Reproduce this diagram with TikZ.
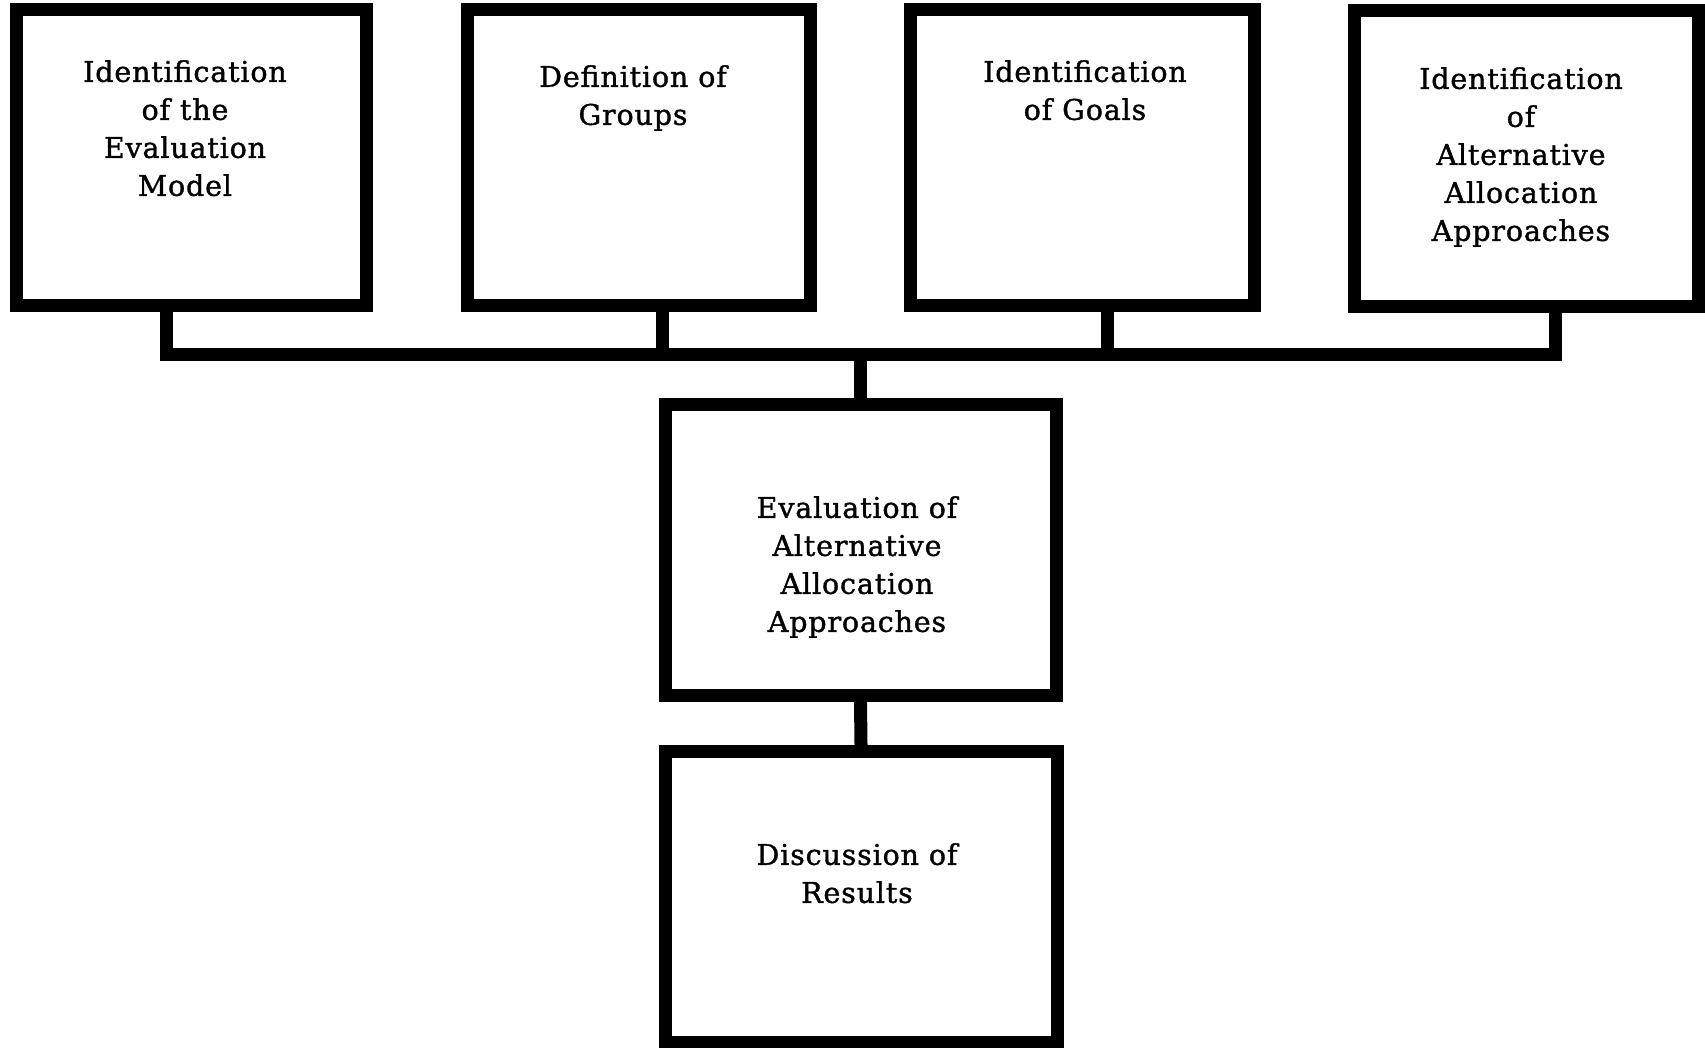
\documentclass[tikz,border=0pt]{standalone}
\usepackage{fontspec}
\setmainfont{DejaVu Serif}[LetterSpace=3, FakeBold=1.2]
\begin{document}
\begin{tikzpicture}[x=1pt,y=-1pt,
  box/.style={draw=black, line width=13pt, fill=white, rectangle, inner sep=0pt},
  lbl/.style={anchor=north, align=center, inner sep=0pt,
              font=\fontsize{28.5}{38}\selectfont},
  wire/.style={line width=13pt, line join=miter, line cap=rect}]
  % page frame
  \fill[white] (0,0) rectangle (1705,1048);
  \useasboundingbox (0,0) rectangle (1705,1048);

  % top row of boxes
  \node[box, minimum width=350pt, minimum height=296pt] (b1) at (191,158) {};
  \node[box, minimum width=343pt, minimum height=296pt] (b2) at (638.5,158) {};
  \node[box, minimum width=344pt, minimum height=296pt] (b3) at (1082,158) {};
  \node[box, minimum width=344pt, minimum height=296pt] (b4) at (1526,159) {};

  % lower column
  \node[box, minimum width=391pt, minimum height=291pt] (mid) at (860.5,549.5) {};
  \node[box, minimum width=392pt, minimum height=291pt] (disc) at (861,896.5) {};

  % labels
  \node[lbl] (t1) at (185,60) {Identification\\of the\\Evaluation\\Model};
  \node[lbl] (t2) at (633,65) {Definition of\\Groups};
  \node[lbl] (t3) at (1085,60) {Identification\\of Goals};
  \node[lbl] (t4) at (1521,67) {Identification\\of\\Alternative\\Allocation\\Approaches};
  \node[lbl] (tm) at (857,496) {Evaluation of\\Alternative\\Allocation\\Approaches};
  \node[lbl] (td) at (857,843) {Discussion of\\Results};

  % collecting bar
  \coordinate (j1) at (166,355);
  \coordinate (j2) at (662,355);
  \coordinate (j3) at (1107,355);
  \coordinate (j4) at (1555,355);
  \coordinate (jm) at (860,355);

  \draw[wire] (j1 |- b1.south) -- (j1) -- (j4) -- (j4 |- b4.south);
  \draw[wire] (j2 |- b2.south) -- (j2);
  \draw[wire] (j3 |- b3.south) -- (j3);
  \draw[wire] (jm) -- (jm |- mid.north);
  \draw[wire] (mid.south) -- (disc.north);
\end{tikzpicture}
\end{document}
